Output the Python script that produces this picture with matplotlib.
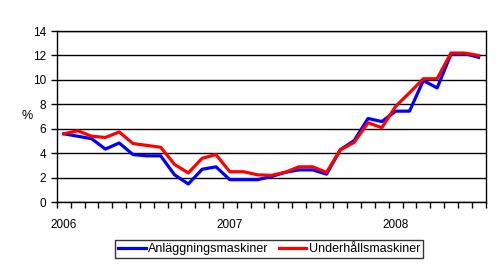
import matplotlib
matplotlib.use("Agg")
import matplotlib.pyplot as plt

plt.rcParams['font.family'] = ['Liberation Sans', 'DejaVu Sans']

# monthly values Jan 2006 - Jul 2008
months = list(range(31))
year_labels = ["2006", "2007", "2008"]
year_pos = [0, 12, 24]

anlaggning = [5.6, 5.4, 5.2, 4.35, 4.85, 3.9, 3.8, 3.8, 2.25, 1.5, 2.7, 2.9,
              1.85, 1.85, 1.85, 2.1, 2.45, 2.65, 2.65, 2.3, 4.3, 5.05, 6.85, 6.6,
              7.45, 7.45, 9.95, 9.35, 12.1, 12.15, 11.85]
underhall = [5.6, 5.85, 5.4, 5.3, 5.75, 4.8, 4.65, 4.5, 3.1, 2.4, 3.6, 3.9,
             2.5, 2.5, 2.25, 2.2, 2.45, 2.9, 2.9, 2.45, 4.3, 4.9, 6.5, 6.1,
             7.85, 8.95, 10.1, 10.1, 12.2, 12.2, 12.0]

fig = plt.figure(figsize=(4.97, 2.68), dpi=100)
ax = fig.add_axes([0.1147, 0.2451, 0.8622, 0.6392])

ax.plot(months, anlaggning, color='#0000ff', lw=2.3, label="Anläggningsmaskiner")
ax.plot(months, underhall, color='#ff0000', lw=2.3, label="Underhållsmaskiner")

ax.set_xlim(-0.5, 30.5)
ax.set_ylim(0, 14)
ax.set_yticks(range(0, 15, 2))
ax.grid(axis='y', color='black', lw=1)
ax.set_axisbelow(True)

# tick marks between categories, year labels under the january categories
ax.set_xticks([m - 0.5 for m in range(32)])
ax.set_xticklabels([])
ax.set_xticks(year_pos, minor=True)
ax.set_xticklabels(year_labels, minor=True)
ax.tick_params(axis='x', which='major', direction='out', length=4, width=1)
ax.tick_params(axis='x', which='minor', length=0, pad=12, labelsize=8.5)
ax.tick_params(axis='y', direction='out', length=4, width=1, labelsize=8.5, pad=4)

for s in ax.spines.values():
    s.set_linewidth(1)
    s.set_color('black')

ax.set_ylabel("%", rotation=0, fontsize=9)
ax.yaxis.set_label_coords(-0.07, 0.47)

leg = fig.legend(loc='center', bbox_to_anchor=(0.542, 0.071), ncol=2, fontsize=9,
                 frameon=True, fancybox=False, handlelength=2.2, handletextpad=0.2,
                 columnspacing=0.8, borderpad=0.25)
leg.get_frame().set_edgecolor('black')
leg.get_frame().set_linewidth(1)

fig.savefig("out.png", dpi=100)
